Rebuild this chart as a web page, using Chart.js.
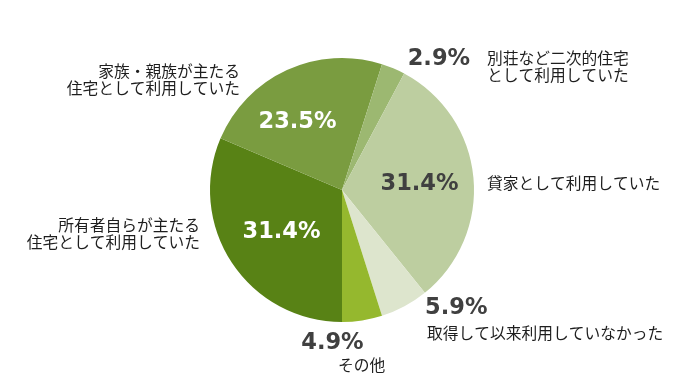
<!DOCTYPE html>
<html>
<head>
<meta charset="utf-8">
<script src="https://cdn.jsdelivr.net/npm/chart.js@4.4.1/dist/chart.umd.min.js"></script>
<style>
html,body{margin:0;padding:0;background:#fff;}
#wrap{width:690px;height:380px;position:relative;}
</style>
</head>
<body>
<div id="wrap"><canvas id="c" width="690" height="380"></canvas></div>
<script>
// Data (clockwise from 6 o'clock)
const categories = [
  ["所有者自らが主たる","住宅として利用していた"],
  ["家族・親族が主たる","住宅として利用していた"],
  ["別荘など二次的住宅","として利用していた"],
  ["貸家として利用していた"],
  ["取得して以来利用していなかった"],
  ["その他"]
];
const values = [31.4, 23.5, 2.9, 31.4, 5.9, 4.9];
const valueLabels = ["31.4%","23.5%","2.9%","31.4%","5.9%","4.9%"];

// Styles
const colors = ["#588215","#7a9c40","#9cb871","#bdcea0","#dde5cd","#95b82e"];
const pctColors = ["#ffffff","#ffffff","#404040","#404040","#404040","#404040"];
// percent label placement: radius factor, angle offset (deg) from slice mid
const pctPlace = [[0.558,-1.3],[0.616,-8.5],[1.235,13.6],[0.589,1.0],[1.245,-15.8],[1.161,12.4]];
// category label placement relative to pie center: dx, dy of first line, align
const catPlace = [[-142,35,"right"],[-102,-119,"right"],[145,-132,"left"],[145,-7,"left"],[85,143,"left"],[-4,175,"left"]];
const lineH = 17.5;

const labelPlugin = {
  id: 'labels',
  afterDraw(chart){
    const ctx = chart.ctx;
    const arcs = chart.getDatasetMeta(0).data;
    ctx.save();
    ctx.textBaseline = 'middle';
    arcs.forEach((arc, i) => {
      const p = arc.getProps(['x','y','startAngle','endAngle','outerRadius'], true);
      const mid = (p.startAngle + p.endAngle)/2 + pctPlace[i][1]*Math.PI/180;
      const r = p.outerRadius * pctPlace[i][0];
      ctx.font = 'bold 22.5px "DejaVu Sans"';
      ctx.fillStyle = pctColors[i];
      ctx.textAlign = 'center';
      ctx.fillText(valueLabels[i], p.x + Math.cos(mid)*r, p.y + Math.sin(mid)*r);
      ctx.font = '15.75px "Noto Sans CJK JP"';
      ctx.fillStyle = '#1e1e1e';
      ctx.textAlign = catPlace[i][2];
      categories[i].forEach((line, k) => {
        ctx.fillText(line, p.x + catPlace[i][0], p.y + catPlace[i][1] + k*lineH);
      });
    });
    ctx.restore();
  }
};

new Chart(document.getElementById('c'), {
  type: 'pie',
  data: {
    labels: categories.map(c => c.join('')),
    datasets: [{
      data: values,
      backgroundColor: colors,
      borderWidth: 0
    }]
  },
  options: {
    responsive: false,
    animation: false,
    rotation: 180,
    layout: { padding: { top: 58, bottom: 58, left: 210, right: 216 } },
    plugins: { legend: { display: false }, tooltip: { enabled: false } }
  },
  plugins: [labelPlugin]
});
</script>
</body>
</html>
